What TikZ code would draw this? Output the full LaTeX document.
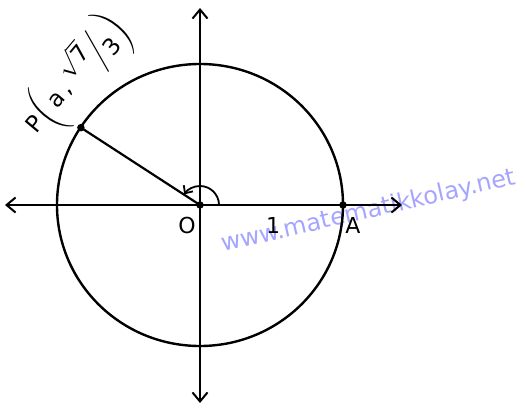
\documentclass[tikz,border=0pt]{standalone}
\usepackage{amsmath}
\usepackage{fontspec}
\setmainfont{DejaVu Sans}
\usetikzlibrary{arrows.meta,positioning,calc}
\definecolor{wmblue}{RGB}{165,165,255}

\begin{document}
\begin{tikzpicture}[
		x=1pt, y=1pt,
		axis/.style={line width=2pt, {Straight Barb[length=9pt,width=15pt]}-{Straight Barb[length=9pt,width=15pt]}},
		curve/.style={line width=2.4pt},
		dot/.style={circle, fill=black, inner sep=0pt, minimum size=7.5pt},
		lbl/.style={font=\fontsize{22}{26}\selectfont, inner sep=0pt}
		]
		\useasboundingbox (-200,-202) rectangle (326,205);
		\node[rotate=13, anchor=base, text=wmblue, font=\fontsize{24}{28}\selectfont] (web) at (170,-13) {www.matematikkolay.net};
		
		\coordinate (O) at (0,0);
		\coordinate (A) at (143,0);
		\coordinate (P) at (147:142);
		\coordinate (xl) at (-195,0);
		\coordinate (xr) at (202,0);
		\coordinate (yb) at (0,-198);
		\coordinate (yt) at (0,197);
		
		\draw[curve] (O) circle[x radius=143, y radius=141];
		\draw[axis] (xl) -- (xr);
		\draw[axis] (yb) -- (yt);
		\draw[line width=2.2pt] (P) -- (O);
		\draw[line width=1.8pt, -{Straight Barb[length=6pt,width=11pt]}] ($(O)+(19,0)$) arc[start angle=0, end angle=146, radius=19];
		
		\node[dot] (dO) at (O) {};
		\node[dot] (dA) at (A) {};
		\node[dot] (dP) at (P) {};
		
		\node[lbl] (lO) at (-13,-20) {O};
		\node[lbl] (l1) at (73,-20) {1};
		\node[lbl] (lA) at (153,-20) {A};
		\node[lbl, rotate=50, font=\fontsize{23}{27}\selectfont] (lP) at (-122,128) {P$\left(\rule[-26pt]{0pt}{62pt}\text{a}\,\text{,}\,\raisebox{0.45em}{$\sqrt{\text{7}}$}\kern-0.2em\Big/\kern-0.2em\raisebox{-0.4em}{3}\right)$};
	\end{tikzpicture}
\end{document}
